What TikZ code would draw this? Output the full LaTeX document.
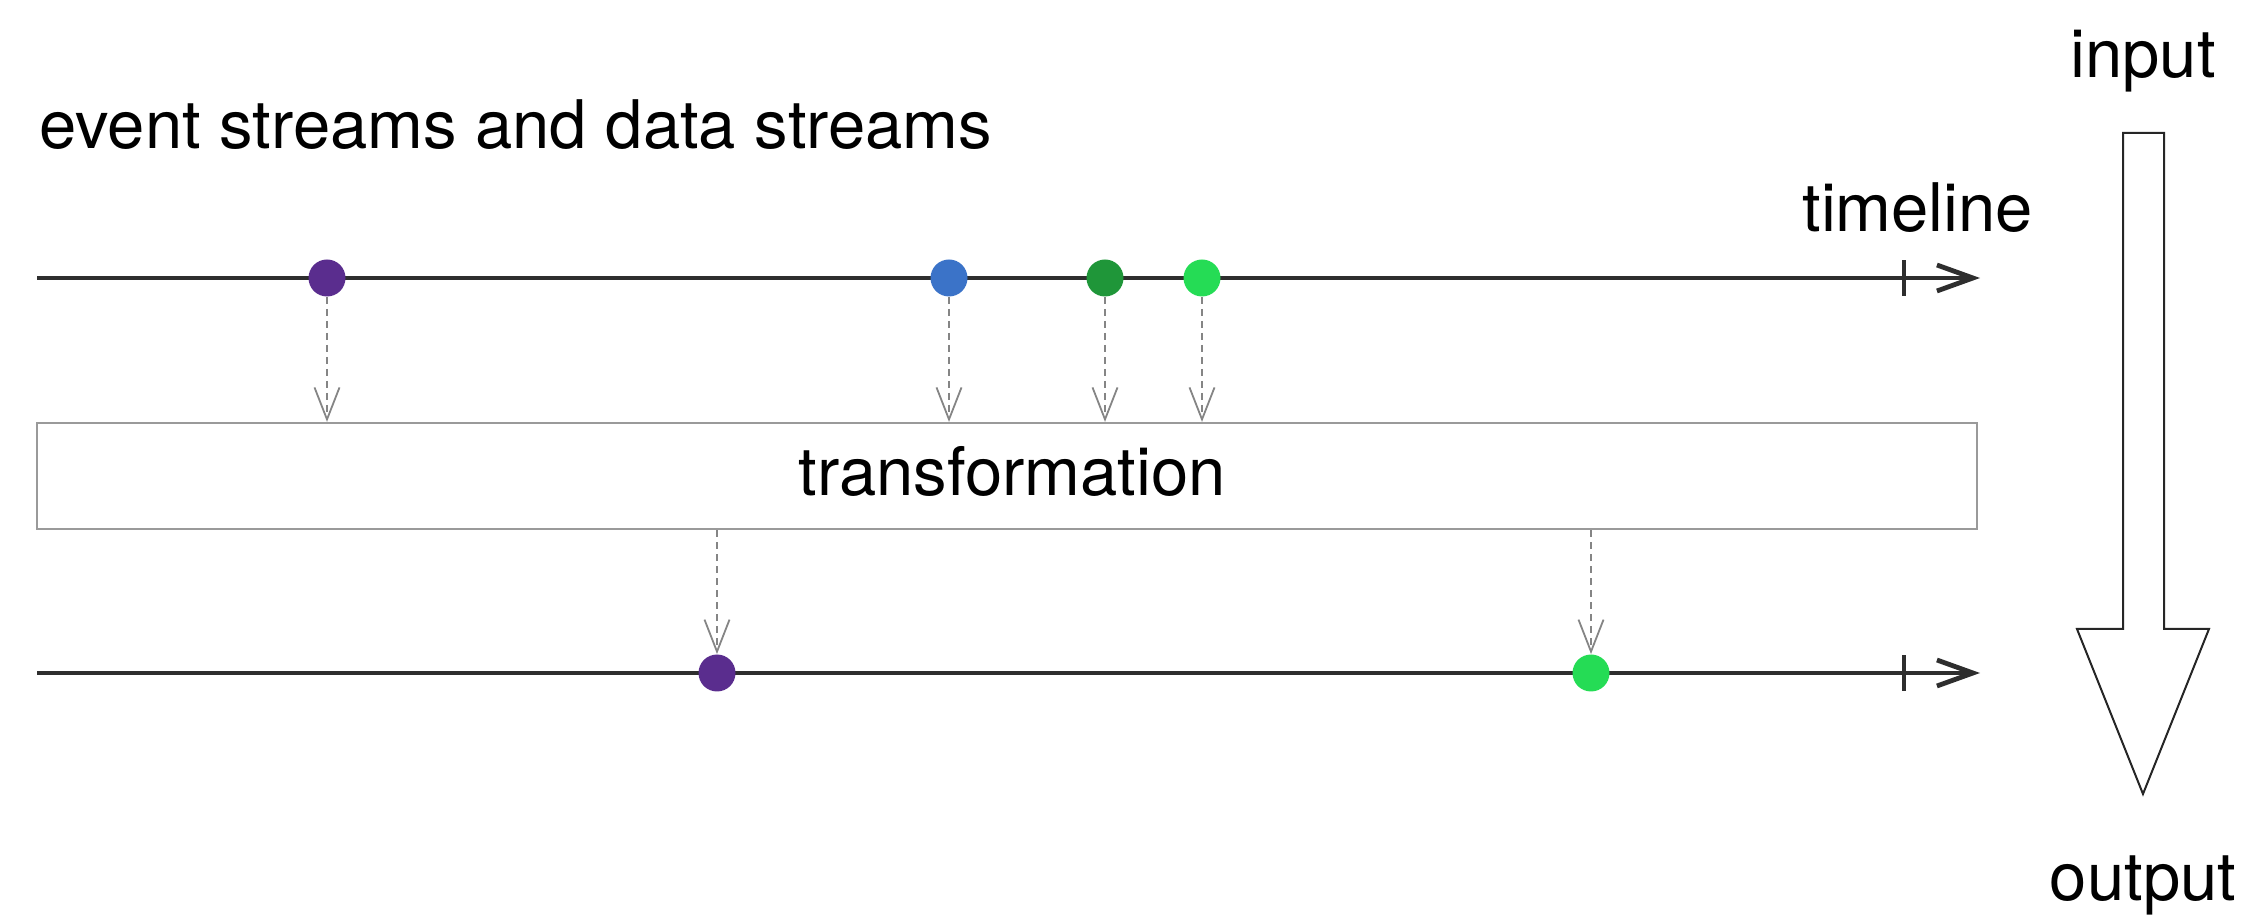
\documentclass[tikz,border=0pt]{standalone}
\usepackage{fontspec}
\setmainfont{TeX Gyre Heros}
\usetikzlibrary{arrows.meta}
\definecolor{linec}{HTML}{2E2E2E}
\definecolor{dashc}{HTML}{858585}
\definecolor{boxc}{HTML}{9A9A9A}
\definecolor{purp}{HTML}{5A2D8E}
\definecolor{blu}{HTML}{3B73C8}
\definecolor{dgreen}{HTML}{1F9639}
\definecolor{lgreen}{HTML}{25DC55}
\tikzset{
  lbl/.style={font=\fontsize{33.5}{40}\selectfont, inner sep=0pt, text=black},
  dot/.style={circle, minimum size=18.5pt, inner sep=0pt, draw=none},
  tline/.style={line width=2.4pt, draw=linec, -{Straight Barb[length=18pt,width=13pt,line width=2.4pt]}},
  tick/.style={line width=2.4pt, draw=linec},
  flow/.style={line width=1.2pt, draw=dashc, dash pattern=on 3.5pt off 2.5pt, -{Straight Barb[length=16pt,width=12.5pt,line width=0.9pt]}, shorten >=0pt},
  trbox/.style={draw=boxc, line width=1.1pt, fill=white, minimum width=970pt, minimum height=53pt, inner sep=0pt},
  bigarrow/.style={draw=black!85, line width=1pt, fill=white, line join=miter}
}
\begin{document}
\begin{tikzpicture}[x=0.5pt,y=-0.5pt]
\useasboundingbox (0,0) rectangle (2266,924);
% labels
\node[lbl, anchor=base west] (title) at (39,149) {event streams and data streams};
\node[lbl, anchor=base west] (tlabel) at (1802,232) {timeline};
\node[lbl, anchor=base] (input) at (2143,78) {input};
\node[lbl, anchor=base] (output) at (2143,900) {output};
% timelines
\coordinate (a1) at (37,278);
\coordinate (a2) at (1980,278);
\coordinate (k1) at (1904,278);
\coordinate (b1) at (37,673);
\coordinate (b2) at (1980,673);
\coordinate (k2) at (1904,673);
\draw[tline] (a1) -- (a2);
\draw[tline] (b1) -- (b2);
\draw[tick] ([yshift=-9pt]k1) -- ([yshift=9pt]k1);
\draw[tick] ([yshift=-9pt]k2) -- ([yshift=9pt]k2);
% box
\node[trbox] (trans) at (1007,476) {};
\node[lbl, anchor=base] (ttext) at (1012,496) {transformation};
% dots
\node[dot, fill=purp] (p1) at (327,278) {};
\node[dot, fill=blu] (p2) at (949,278) {};
\node[dot, fill=dgreen] (p3) at (1105,278) {};
\node[dot, fill=lgreen] (p4) at (1202,278) {};
\node[dot, fill=purp] (q1) at (717,673) {};
\node[dot, fill=lgreen] (q2) at (1591,673) {};
% dashed arrows
\foreach \n in {p1,p2,p3,p4}
  \draw[flow] (\n.south) -- (\n |- trans.north);
\foreach \n in {q1,q2}
  \draw[flow] (trans.south -| \n) -- (\n.north);
% big arrow
\draw[bigarrow] (2123,133) -- (2164,133) -- (2164,629) -- (2209,629) -- (2143,794) -- (2077,629) -- (2123,629) -- cycle;
\end{tikzpicture}
\end{document}
